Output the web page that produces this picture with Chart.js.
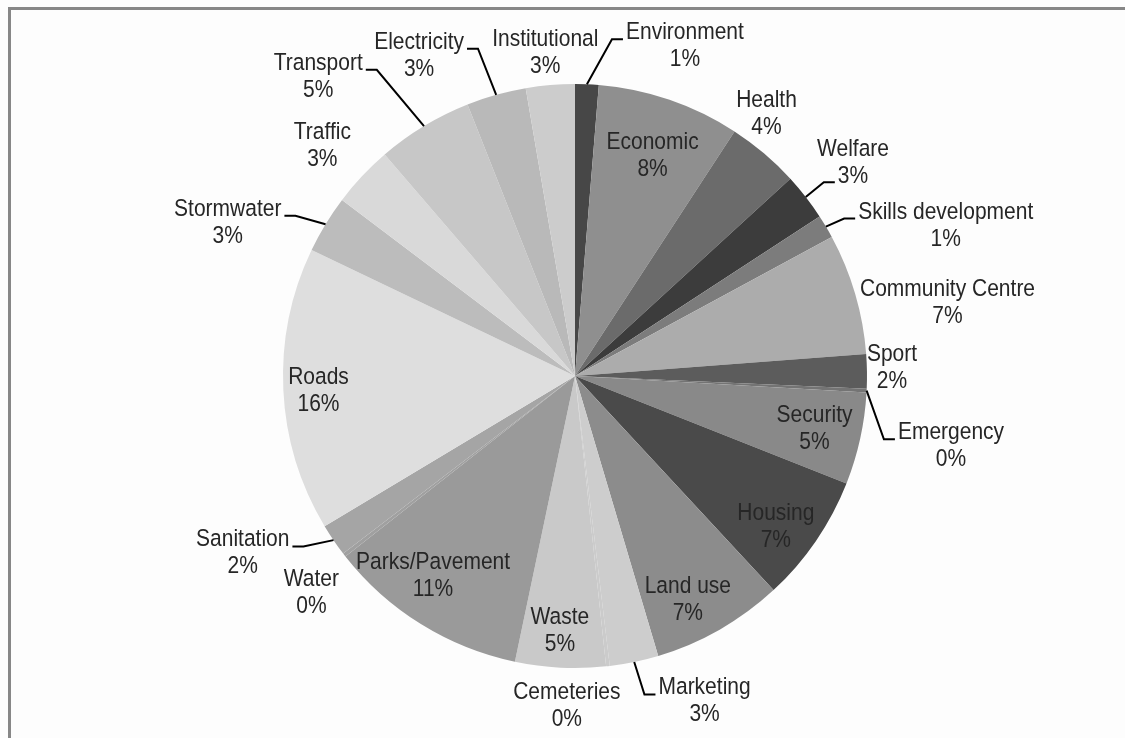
<!DOCTYPE html>
<html>
<head>
<meta charset="utf-8">
<script src="https://cdn.jsdelivr.net/npm/chart.js@4.4.1/dist/chart.umd.min.js"></script>
<style>
    html, body { margin: 0; padding: 0; background: #fdfdfd; overflow: hidden; }
    #frame { position: absolute; left: 8px; top: 7px; width: 1200px; height: 800px; border-top: 3px solid #878787; border-left: 3px solid #878787; }
    #pie { position: absolute; left: 0; top: 0; }
</style>
</head>
<body>
<div id="frame"></div>
<canvas id="pie" width="1125" height="738"></canvas>
<script>
// project spend by category, share of total (%)
const categories = ['Environment', 'Economic', 'Health', 'Welfare', 'Skills development', 'Community Centre', 'Sport', 'Emergency',
    'Security', 'Housing', 'Land use', 'Marketing', 'Cemeteries', 'Waste', 'Parks/Pavement', 'Water', 'Sanitation', 'Roads',
    'Stormwater', 'Traffic', 'Transport', 'Electricity', 'Institutional'];
const shares = [1.3, 7.9, 4.0, 2.6, 1.3, 6.7, 1.9, 0.2, 5.1, 7.1, 7.3, 2.7, 0.2, 5.0, 11.1, 0.2, 1.8, 15.7, 3.2, 3.4, 5.3, 3.3, 2.7];

const sliceColors = ['#474747', '#8f8f8f', '#6b6b6b', '#3c3c3c', '#7c7c7c', '#acacac', '#5c5c5c', '#747474',
    '#898989', '#4a4a4a', '#8c8c8c', '#cdcdcd', '#cbcbcb', '#c9c9c9', '#9a9a9a', '#a0a0a0', '#a5a5a5', '#dedede',
    '#bcbcbc', '#d9d9d9', '#c7c7c7', '#b9b9b9', '#cccccc'];

// label placement: angle shift from slice middle (deg) and distance as fraction of radius
const labelShift = [16.1, 0.5, -4.1, 0.3, 8.7, 5.3, -0.5, 7.7, 0, 2.5, 3, -10, 7.9, 0.5, 3.5, -1.7, 6.1, -0.7, -7.5, -0.9, -9.5, -10.3, -0.4];
const labelDistance = [1.19, 0.80, 1.11, 1.20, 1.37, 1.30, 1.086, 1.31, 0.84, 0.86, 0.86, 1.20, 1.13, 0.875, 0.84, 1.17, 1.29, 0.88, 1.30, 1.17, 1.35, 1.22, 1.11];
const leaderLabels = ['Environment', 'Welfare', 'Skills development', 'Emergency', 'Marketing', 'Sanitation', 'Stormwater', 'Transport', 'Electricity'];
const leaderToValue = ['Welfare'];

const total = shares.reduce((a, b) => a + b, 0);

const sliceLabels = {
    id: 'sliceLabels',
    afterDatasetsDraw(chart) {
        const ctx = chart.ctx;
        const arcs = chart.getDatasetMeta(0).data;
        const lineH = 27;
        ctx.save();
        ctx.font = '21px "Liberation Sans", Arial, sans-serif';
        ctx.textAlign = 'center';
        ctx.textBaseline = 'middle';
        arcs.forEach((arc, i) => {
            const mid = (arc.startAngle + arc.endAngle) / 2;
            const a = mid + labelShift[i] * Math.PI / 180;
            const d = arc.outerRadius * labelDistance[i];
            const lx = arc.x + d * Math.cos(a);
            const ly = arc.y + d * Math.sin(a);
            const name = categories[i];
            const pct = Math.round(shares[i] / total * 100) + '%';

            if (leaderLabels.includes(name)) {
                const sx = arc.x + arc.outerRadius * Math.cos(mid);
                const sy = arc.y + arc.outerRadius * Math.sin(mid);
                let w = Math.max(ctx.measureText(name).width, ctx.measureText(pct).width);
                let ay = ly - 7;
                if (leaderToValue.includes(name)) {
                    w = ctx.measureText(pct).width;
                    ay = ly + lineH / 2 + 6;
                }
                const right = lx > sx;
                const ax = right ? lx - w / 2 - 3 : lx + w / 2 + 3;
                const bx = right ? ax - 11 : ax + 11;
                ctx.strokeStyle = '#000';
                ctx.lineWidth = 2;
                ctx.beginPath();
                ctx.moveTo(sx, sy);
                ctx.lineTo(bx, ay);
                ctx.lineTo(ax, ay);
                ctx.stroke();
            }

            ctx.fillStyle = '#262626';
            ctx.save();
            ctx.translate(lx, ly);
            ctx.scale(1, 1.1);
            ctx.fillText(name, 0, -lineH / 2 / 1.1);
            ctx.fillText(pct, 0, lineH / 2 / 1.1);
            ctx.restore();
        });
        ctx.restore();
    }
};

new Chart(document.getElementById('pie'), {
    type: 'pie',
    data: {
        labels: categories,
        datasets: [{
            data: shares,
            backgroundColor: sliceColors,
            borderWidth: 0,
        }],
    },
    options: {
        responsive: false,
        animation: false,
        layout: { padding: { left: 283, right: 258, top: 84, bottom: 70 } },
        plugins: {
            legend: { display: false },
            tooltip: { enabled: false },
        },
    },
    plugins: [sliceLabels],
});
</script>
</body>
</html>
